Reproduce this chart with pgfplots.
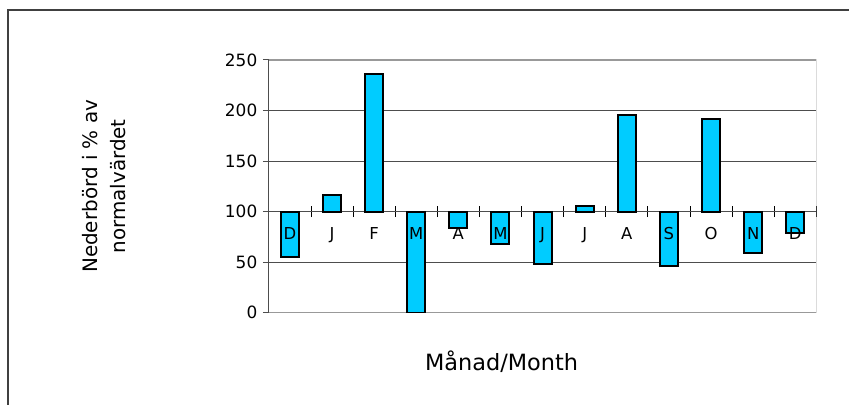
\documentclass[border=0pt]{standalone}
\usepackage{fontspec}
\setmainfont{DejaVu Sans}
\usepackage{pgfplots}
\pgfplotsset{compat=1.18}
\definecolor{barcyan}{HTML}{00CCFF}
\definecolor{gridgray}{HTML}{4D4D4D}
\definecolor{bordergray}{HTML}{999999}
\pgfplotsset{
  monthaxis/.style={
    at={(269bp,92bp)}, anchor=south west,
    scale only axis, width=548bp, height=253bp,
    xmin=-0.5, xmax=12.5, ymin=0, ymax=250,
    y coord trafo/.code={\pgfmathparse{##1-100}},
    y coord inv trafo/.code={\pgfmathparse{##1+100}},
  },
}
\begin{document}
\begin{tikzpicture}
\path (0,0) rectangle (850bp,405bp);
\draw[line width=1.3bp, black!75] (8bp,0bp) -- (8bp,395bp) -- (850bp,395bp);
\begin{axis}[
  monthaxis,
  axis x line=middle, axis y line=left,
  axis line style={-, line width=1bp, gridgray},
  hide obscured x ticks=false, hide obscured y ticks=false,
  xtick={0,...,12},
  xticklabels={},
  major x tick style={draw=none},
  minor xtick={0.5,1.5,...,12.5},
  minor x tick style={black, line width=0.8bp},
  minor tick length=11bp,
  xtick align=center,
  ytick={0,50,100,150,200,250},
  yticklabels={0,50,100,150,200,250},
  ytick align=outside, major tick length=6bp,
  major y tick style={gridgray, line width=1bp},
  ymajorgrids, grid style={gridgray, line width=1bp},
  /pgf/number format/assume math mode=true,
  yticklabel style={font=\fontsize{17}{19}\selectfont, xshift=-2bp},
  every axis x label/.style={at={(axis description cs:0.425,-0.194)}, anchor=center},
  every axis y label/.style={at={(axis description cs:-0.301,0.5)}, rotate=90, anchor=center},
  xlabel={Månad/Month},
  ylabel={Nederbörd i \% av\\normalvärdet},
  xlabel style={font=\fontsize{22.5}{26}\selectfont},
  ylabel style={font=\fontsize{20}{28}\selectfont, align=center},
]
\draw[bordergray, line width=1.2bp] (rel axis cs:0,1) -- (rel axis cs:1,1) -- (rel axis cs:1,0) -- (rel axis cs:0,0);
\addplot[ybar, bar width=18bp, bar shift=0pt, fill=barcyan, draw=black, line width=2bp]
coordinates {
(0,55) (1,116) (2,236) (3,0) (4,84) (5,68) (6,48)
(7,106) (8,196) (9,46) (10,192) (11,59) (12,79)
};
\end{axis}
% month letters on top of the bars
\begin{axis}[
  monthaxis,
  hide y axis,
  axis x line=middle,
  x axis line style={draw=none},
  xtick={0,...,12},
  xticklabels={D,J,F,M,A,M,J,J,A,S,O,N,D},
  major x tick style={draw=none},
  hide obscured x ticks=false,
  xticklabel style={font=\fontsize{16.5}{18}\selectfont, yshift=-10bp},
]
\end{axis}
\end{tikzpicture}
\end{document}
